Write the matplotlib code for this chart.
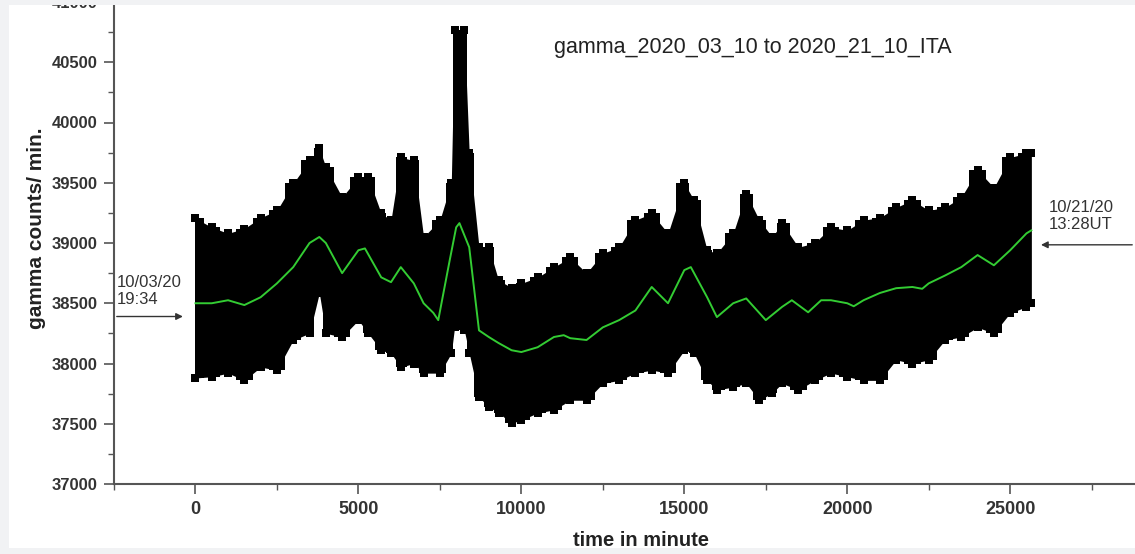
import numpy as np
import matplotlib
matplotlib.use('Agg')
import matplotlib.pyplot as plt
from matplotlib.patches import Rectangle

# outline of the dense black square-marker cloud
env_time = [0, 500, 1000, 1500, 2000, 2500, 3000, 3500, 3800, 4000, 4500, 5000,
            5300, 5700, 6000, 6300, 6700, 7000, 7500, 7850, 7950, 8250, 8400,
            8700, 9000, 9300, 9700, 10000, 10500, 11000, 11500, 12000, 12500,
            13000, 13500, 14000, 14500, 15000, 15300, 15700, 16000, 16500,
            16900, 17300, 17700, 18000, 18500, 19000, 19500, 20000, 20500,
            21000, 21500, 22000, 22500, 23000, 23500, 24000, 24500, 25000,
            25500, 25650]
env_upper = [39205, 39130, 39080, 39120, 39210, 39270, 39495, 39685, 39785, 39630,
             39380, 39545, 39545, 39245, 39190, 39710, 39685, 39050, 39190, 39500,
             40765, 40765, 39745, 38965, 38965, 38690, 38630, 38665, 38715, 38800,
             38880, 38750, 38915, 38965, 39190, 39245, 39080, 39495, 39355, 38940,
             38915, 39080, 39410, 39190, 39050, 39165, 38965, 39000, 39130, 39105,
             39190, 39210, 39295, 39355, 39270, 39295, 39380, 39605, 39460, 39710,
             39745, 39745]
env_lower = [37880, 37890, 37920, 37860, 37970, 37945, 38195, 38250, 38585, 38250,
             38220, 38360, 38250, 38110, 38085, 37970, 38000, 37920, 37920, 38085,
             38300, 38275, 38085, 37720, 37640, 37590, 37505, 37530, 37590, 37615,
             37695, 37695, 37835, 37860, 37920, 37945, 37920, 38110, 38085, 37860,
             37780, 37805, 37835, 37695, 37755, 37835, 37780, 37860, 37920, 37890,
             37860, 37860, 38030, 38000, 38030, 38195, 38220, 38300, 38250, 38420,
             38470, 38500]

# smoothed curve (green)
smooth_time = [0, 500, 1000, 1500, 2000, 2500, 3000, 3500, 3800, 4000, 4500, 5000,
               5200, 5700, 6000, 6300, 6700, 7000, 7300, 7450, 7800, 8000, 8100,
               8400, 8700, 9000, 9300, 9700, 10000, 10500, 11000, 11300, 11500,
               12000, 12500, 13000, 13500, 14000, 14500, 15000, 15200, 15700,
               16000, 16500, 16900, 17300, 17500, 18000, 18300, 18800, 19200,
               19500, 20000, 20200, 20500, 21000, 21500, 22000, 22300, 22500,
               23000, 23500, 24000, 24500, 25000, 25500, 25650]
smooth_counts = [38500, 38500, 38525, 38485, 38550, 38665, 38800, 39000, 39050, 39000,
                 38750, 38940, 38955, 38715, 38675, 38800, 38665, 38500, 38420, 38360,
                 38855, 39130, 39165, 38965, 38275, 38220, 38170, 38110, 38095, 38135,
                 38220, 38235, 38210, 38195, 38300, 38360, 38440, 38635, 38500, 38775,
                 38800, 38550, 38385, 38500, 38540, 38420, 38360, 38470, 38525, 38425,
                 38525, 38525, 38500, 38475, 38525, 38585, 38625, 38635, 38620, 38665,
                 38730, 38800, 38900, 38815, 38940, 39080, 39105]

title = 'gamma_2020_03_10 to 2020_21_10_ITA'
start_label = '10/03/20\n19:34'
end_label = '10/21/20\n13:28UT'

plt.rcParams['font.family'] = ['Liberation Sans', 'DejaVu Sans']

fig = plt.figure(figsize=(11.35, 5.54), dpi=100, facecolor='#f1f2f4')
fig.patches.append(Rectangle((9 / 1135, 6 / 554), 1, 1 - 11 / 554,
                             transform=fig.transFigure, facecolor='white',
                             edgecolor='none', zorder=-5))
# grey strip along the top edge sits over the plot (cuts the top label)
fig.patches.append(Rectangle((0, 1 - 5 / 554), 1, 5 / 554,
                             transform=fig.transFigure, facecolor='#f1f2f4',
                             edgecolor='none', zorder=10))
ax = fig.add_axes([114 / 1135, 70 / 554, 1 - 114 / 1135, 482 / 554])
ax.set_facecolor('none')

ax.fill_between(env_time, env_lower, env_upper, step='mid', color='black', lw=0, zorder=2)
ax.fill_between(env_time, env_lower, env_upper, color='black', lw=0, zorder=2)
ax.scatter(env_time, env_upper, marker='s', s=34, c='black', lw=0, zorder=2)
ax.scatter(env_time, env_lower, marker='s', s=34, c='black', lw=0, zorder=2)
ax.plot(smooth_time, smooth_counts, color='#33cc33', lw=1.4, zorder=3)

ax.set_xlim(-2500, 28830)
ax.set_ylim(37000, 41000)
ax.set_xticks(np.arange(0, 25001, 5000))
ax.set_xticks(np.arange(-2500, 28000, 5000), minor=True)
ax.set_yticks(np.arange(37000, 41001, 500))
ax.set_yticks(np.arange(37250, 41000, 500), minor=True)

for side in ['top', 'right']:
    ax.spines[side].set_visible(False)
for side in ['left', 'bottom']:
    ax.spines[side].set_color('#555555')
    ax.spines[side].set_linewidth(1.5)

ax.tick_params(which='major', length=7, width=1.2, color='#555555', pad=5)
ax.tick_params(which='minor', length=4, width=1.0, color='#555555')
for lab in ax.get_yticklabels():
    lab.set_fontsize(12)
    lab.set_fontweight('bold')
    lab.set_color('#333333')
for lab in ax.get_xticklabels():
    lab.set_fontsize(13)
    lab.set_fontweight('bold')
    lab.set_color('#333333')

# start / end markers
ax.annotate('', xy=(-300, 38390), xytext=(-2500, 38390),
            arrowprops=dict(arrowstyle='-|>', color='#333333', lw=1, mutation_scale=10),
            annotation_clip=False)
ax.text(-2420, 38600, start_label, fontsize=12, color='#333333',
        ha='left', va='center', linespacing=1.2)
ax.annotate('', xy=(25860, 38985), xytext=(28830, 38985),
            arrowprops=dict(arrowstyle='-|>', color='#333333', lw=1, mutation_scale=10),
            annotation_clip=False)
ax.text(26190, 39222, end_label, fontsize=12, color='#333333',
        ha='left', va='center', linespacing=1.2)

fig.text(753 / 1135, 1 - 47 / 554, title, fontsize=15.5, color='#222222',
         ha='center', va='center')
fig.text(641 / 1135, 1 - 541 / 554, 'time in minute', fontsize=14.5,
         fontweight='bold', color='#222222', ha='center', va='center')
fig.text(37 / 1135, 1 - 228 / 554, 'gamma counts/ min.', fontsize=15,
         fontweight='bold', color='#222222', ha='center', va='center', rotation=90)

fig.savefig('out.png', dpi=100, facecolor=fig.get_facecolor())
